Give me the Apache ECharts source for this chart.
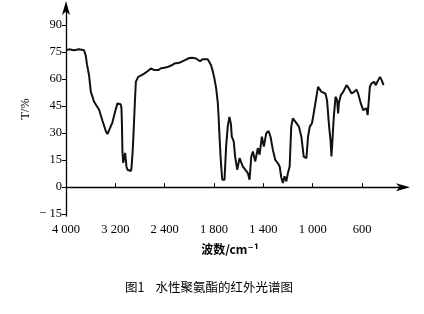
<!DOCTYPE html>
<html><head><meta charset="utf-8">
<script src="https://cdn.jsdelivr.net/npm/echarts@6/dist/echarts.min.js"></script>
<style>html,body{margin:0;padding:0;background:#fff}#c{width:424px;height:314px}</style>
</head><body><div id="c"></div>
<script>
// wavenumber (cm^-1)
const wavenumbers = [4000,3951,3870,3789,3707,3680,3659,3626,3598,3545,3463,3410,3354,3328,3301,3247,3203,3166,3138,3114,3101,3093,3085,3073,3057,3041,3020,3003,2976,2948,2938,2919,2906,2883,2867,2829,2781,2732,2683,2623,2569,2542,2504,2460,2407,2353,2293,2244,2163,2081,2000,
1976,1946,1913,1894,1878,1851,1824,1809,1797,1783,1770,1762,1756,1748,1741,1733,1724,1715,1702,1689,1675,1669,1663,1656,1640,1629,1612,1593,1580,1567,1547,1526,1512,1498,1485,1466,1445,1431,1412,1396,1377,1358,1342,1323,1304,1283,1268,1255,1242,1228,1214,1201,1187,1174,1161,1141,1128,1112,1092,1073,1051,1038,1024,1006,992,970,957,943,929,916,897,884,867,856,848,840,829,815,802,794,788,772,753,726,707,685,664,645,632,610,591,577,564,555,545,537,523,502,490,469,455,441,428,426];
// transmittance T (%)
const transmittance = [76,76.5,76,76.6,76,73,68,62,53,47.4,43,37,31,29.5,30.5,36,42,46.5,47,46,44,35,20,13.5,12.4,19,11.5,9.7,9.2,9,10.8,20,29,47.4,58.5,61.2,62,63,64.2,65.9,65,64,65,66,66.3,66.7,67.5,68.6,69,70.4,71.7,
71.8,71.4,69.9,71,71.7,71,67.7,64,60.3,55,47.4,38,29,18,10.6,4.1,3.8,4.1,22.5,33.6,39,39.5,35,28,25.3,17,9.7,16.1,15.2,11.5,9.7,7.8,4.1,17,19.8,14.3,21.7,18,28,22.5,29.9,31.2,28,20.7,15.2,13.4,11.5,5.5,2.3,6,3.2,7.8,11.5,33.6,38.2,36.4,37.3,33.6,28,17,16.1,28,33.6,35.5,41,50.2,55.7,56.6,52.9,53.9,52,48.3,33.6,26.2,17,26.2,39,50.2,48.3,41,46.5,51.1,52.9,56.6,54.8,52,52.9,54.2,52,46.5,42.8,41.9,43.8,40,48.3,55.7,57.6,58.5,56.6,59.4,61.2,59.4,60.3,56.6];
const xTickLabels = ['4 000','3 200','2 400','1 800','1 400','1 000','600'];
const yTicks = [-15,0,15,30,45,60,75,90];

// spectrometer abscissa: scale doubles below 2000 cm^-1
function toAxis(w){ return w >= 2000 ? (4000 - w) / 800 : 2.5 + (2000 - w) / 400; }
const seriesData = wavenumbers.map((w,i)=>[toAxis(w), transmittance[i]]);

const serif = '"Liberation Serif","DejaVu Serif",serif';
const chart = echarts.init(document.getElementById('c'));
chart.setOption({
  animation:false,
  backgroundColor:'#fff',
  grid:{left:66,right:20,top:7,bottom:98},
  xAxis:{type:'value',min:0,max:6.85,
    axisLine:{lineStyle:{color:'#000',width:1.3},symbol:['none','arrow'],symbolSize:[6,14],symbolOffset:[0,6]},
    axisTick:{inside:true,length:4,lineStyle:{color:'#000',width:1},customValues:[0,1,2,3,4,5,6]},
    axisLabel:{customValues:[0,1,2,3,4,5,6],formatter:v=>xTickLabels[Math.round(v)],color:'#000',fontFamily:serif,fontSize:12.5,margin:7},
    splitLine:{show:false}},
  yAxis:{type:'value',min:-16,max:100,
    axisLine:{lineStyle:{color:'#000',width:1.3},symbol:['none','arrow'],symbolSize:[6,14],symbolOffset:[0,6]},
    axisTick:{inside:false,length:4,lineStyle:{color:'#000',width:1},customValues:yTicks},
    axisLabel:{customValues:yTicks,formatter:v=>v<0?'− '+Math.abs(v):String(v),color:'#000',fontFamily:serif,fontSize:12.5,margin:4},
    splitLine:{show:false}},
  series:[{type:'line',data:seriesData,showSymbol:false,smooth:false,
    lineStyle:{color:'#111',width:2},z:3}],
  graphic:[
    {type:'text',x:26,y:109,rotation:Math.PI/2,style:{text:'T/%',font:'12.5px '+serif,fill:'#000',align:'center',verticalAlign:'middle'}},
    {type:'text',x:230,y:249,style:{text:'波数/cm⁻¹',font:'bold 12px "Noto Sans CJK SC",'+serif,fill:'#000',align:'center',verticalAlign:'middle'}},
    {type:'text',x:209,y:287,style:{text:'图1    水性聚氨酯的红外光谱图',font:'12.5px "Noto Sans CJK SC",sans-serif',fill:'#000',align:'center',verticalAlign:'middle'}}
  ]
});
</script></body></html>
